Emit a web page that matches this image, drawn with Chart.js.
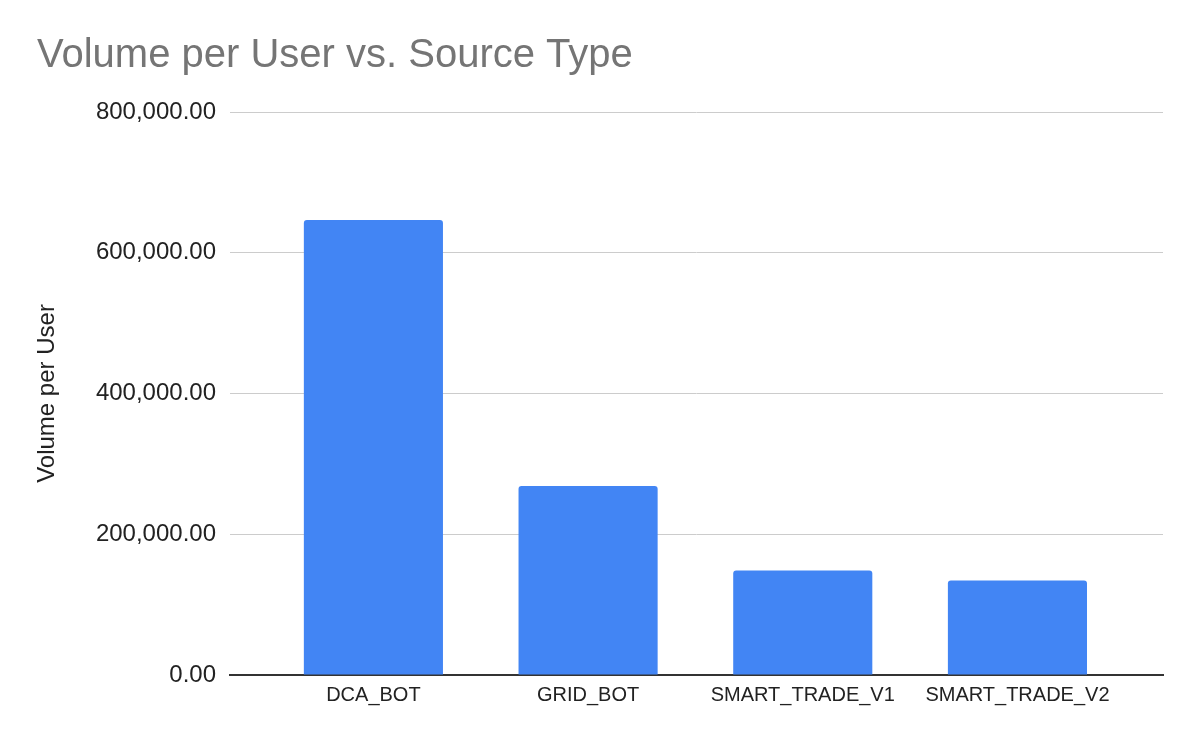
<!DOCTYPE html>
<html>
<head>
<meta charset="utf-8">
<script src="https://cdn.jsdelivr.net/npm/chart.js@4/dist/chart.umd.min.js"></script>
<style>
  html, body { margin: 0; padding: 0; background: #fff; }
</style>
</head>
<body>
<canvas id="chart" width="1200" height="742"></canvas>
<script>
const categories = ['DCA_BOT', 'GRID_BOT', 'SMART_TRADE_V1', 'SMART_TRADE_V2'];
const volumePerUser = [646400, 268500, 148600, 134400];
const yTicks = [0, 200000, 400000, 600000, 800000];

const FONT = '"Liberation Sans", Arial, sans-serif';

const ctx = document.getElementById('chart').getContext('2d');
new Chart(ctx, {
  type: 'bar',
  data: {
    datasets: [{
      label: 'Volume per User',
      data: volumePerUser.map((v, i) => ({ x: i, y: v })),
      backgroundColor: '#4285f4',
      borderRadius: 3,
      borderSkipped: 'bottom',
      barPercentage: 1,
      categoryPercentage: 0.648,
    }],
  },
  options: {
    responsive: false,
    animation: false,
    layout: { padding: { left: 37, right: 37, top: 0, bottom: 0 } },
    plugins: {
      legend: { display: false },
      tooltip: { enabled: false },
      title: {
        display: true,
        text: 'Volume per User vs. Source Type',
        align: 'start',
        color: '#757575',
        font: { family: FONT, size: 40, weight: 'normal' },
        padding: { top: 32, bottom: 32 },
      },
    },
    scales: {
      x: {
        type: 'linear',
        offset: false,
        min: -0.668,
        max: 3.678,
        afterBuildTicks: (scale) => {
          scale.ticks = categories.map((_, i) => ({ value: i }));
        },
        afterFit: (scale) => { scale.height = 67; },
        grid: { display: false },
        border: { display: true, color: '#333', width: 2 },
        ticks: {
          autoSkip: false,
          maxRotation: 0,
          padding: 0,
          color: '#222',
          font: { family: FONT, size: 20 },
          callback: (v) => categories[v],
        },
      },
      y: {
        min: 0,
        max: 800000,
        afterBuildTicks: (scale) => {
          scale.ticks = yTicks.map((v) => ({ value: v }));
        },
        afterFit: (scale) => { scale.width = 193; },
        border: { display: false },
        grid: {
          color: '#cccccc',
          lineWidth: 1,
          drawTicks: false,
        },
        ticks: {
          padding: 14,
          color: '#222',
          font: { family: FONT, size: 24 },
          callback: (v) => v.toLocaleString('en-US', { minimumFractionDigits: 2, maximumFractionDigits: 2 }),
        },
        title: {
          display: true,
          text: 'Volume per User',
          color: '#222',
          font: { family: FONT, size: 24 },
          padding: { top: -4, bottom: 0 },
        },
      },
    },
  },
});
</script>
</body>
</html>
